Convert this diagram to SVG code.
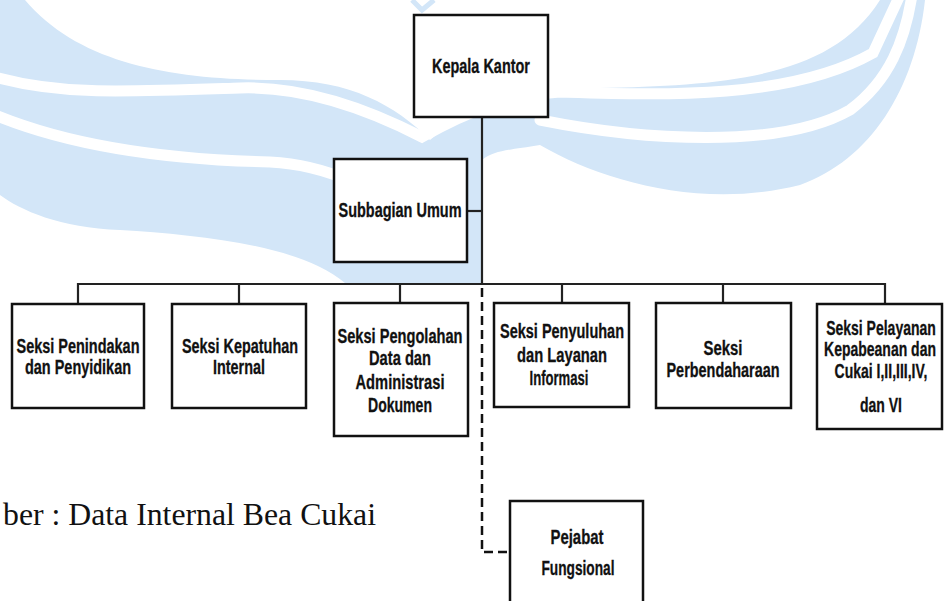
<svg xmlns="http://www.w3.org/2000/svg" width="944" height="601" viewBox="0 0 944 601">
<style>
.wm{fill:#d3e6f8;stroke:none}
.ws{fill:none;stroke:#ffffff;stroke-width:11;stroke-linecap:round}
.box{fill:#ffffff;stroke:#111111;stroke-width:2.5}
.t{font-family:"Liberation Sans",Arial,sans-serif;font-weight:bold;font-size:20px;fill:#111111;stroke:#111111;stroke-width:0.3}
.line{fill:none;stroke:#222222;stroke-width:2.2}
.dash{fill:none;stroke:#111111;stroke-width:2.5;stroke-dasharray:9 5}
.cap{font-family:"Liberation Serif","Times New Roman",serif;font-size:32px;fill:#111111}
</style>
<rect width="944" height="601" fill="#ffffff"/>
<g id="watermark">
<path class="wm" d="M0,0 L25,0 C80,65 175,80 280,80 C350,80 395,105 430,140 C470,105 520,90 600,88 C720,85 830,80 880,0 L925,0 C915,90 870,160 800,185 C700,210 600,180 540,145 C510,150 495,150 482,160 L482,283 L345,283 C300,245 200,235 120,230 C60,228 20,210 0,195 Z"/>
<path class="ws" d="M-5,77 C60,95 120,92 240,88 C300,86 360,105 422,137 C470,110 510,95 560,92 C660,95 790,100 873,53 L900,-5"/>
<path class="ws" d="M-5,115 C80,150 180,160 270,162 C330,165 380,190 425,230"/>
<path class="ws" d="M540,120 C640,140 780,150 850,110 C890,80 905,40 912,-5"/>
<path fill="none" stroke="#d3e6f8" stroke-width="5" d="M412,0 L422,10 L434,0"/>
</g>
<g id="connectors">
<line class="line" x1="482" y1="117" x2="482" y2="284" stroke-width="3"/>
<line class="line" x1="467" y1="211" x2="482" y2="211"/>
<polyline class="line" points="78,304 78,284 885,284 885,304"/>
<line class="line" x1="239" y1="284" x2="239" y2="304"/>
<line class="line" x1="400" y1="284" x2="400" y2="303"/>
<line class="line" x1="562" y1="284" x2="562" y2="303"/>
<line class="line" x1="723" y1="284" x2="723" y2="303"/>
<polyline class="dash" points="482,288 482,552 510,552"/>
</g>
<g id="kepala-kantor">
<rect class="box" x="414" y="15" width="134" height="102"/>
<text class="t" x="481" y="73" text-anchor="middle" textLength="98" lengthAdjust="spacingAndGlyphs">Kepala Kantor</text>
</g>
<g id="subbagian-umum">
<rect class="box" x="334" y="159" width="133" height="103"/>
<text class="t" x="400" y="217" text-anchor="middle" textLength="123" lengthAdjust="spacingAndGlyphs">Subbagian Umum</text>
</g>
<g id="seksi-penindakan">
<rect class="box" x="12" y="304" width="132" height="104"/>
<text class="t" x="78" y="353" text-anchor="middle" textLength="123" lengthAdjust="spacingAndGlyphs">Seksi Penindakan</text>
<text class="t" x="78" y="374" text-anchor="middle" textLength="106" lengthAdjust="spacingAndGlyphs">dan Penyidikan</text>
</g>
<g id="seksi-kepatuhan">
<rect class="box" x="172" y="304" width="134" height="104"/>
<text class="t" x="240" y="353" text-anchor="middle" textLength="116" lengthAdjust="spacingAndGlyphs">Seksi Kepatuhan</text>
<text class="t" x="239" y="374" text-anchor="middle" textLength="52" lengthAdjust="spacingAndGlyphs">Internal</text>
</g>
<g id="seksi-pengolahan">
<rect class="box" x="334" y="303" width="134" height="133"/>
<text class="t" x="400" y="343" text-anchor="middle" textLength="125" lengthAdjust="spacingAndGlyphs">Seksi Pengolahan</text>
<text class="t" x="400" y="365" text-anchor="middle" textLength="62" lengthAdjust="spacingAndGlyphs">Data dan</text>
<text class="t" x="400" y="389" text-anchor="middle" textLength="89" lengthAdjust="spacingAndGlyphs">Administrasi</text>
<text class="t" x="400" y="412" text-anchor="middle" textLength="64" lengthAdjust="spacingAndGlyphs">Dokumen</text>
</g>
<g id="seksi-penyuluhan">
<rect class="box" x="494" y="303" width="135" height="104"/>
<text class="t" x="562" y="338" text-anchor="middle" textLength="124" lengthAdjust="spacingAndGlyphs">Seksi Penyuluhan</text>
<text class="t" x="562" y="362" text-anchor="middle" textLength="90" lengthAdjust="spacingAndGlyphs">dan Layanan</text>
<text class="t" x="559" y="385" text-anchor="middle" textLength="59" lengthAdjust="spacingAndGlyphs">Informasi</text>
</g>
<g id="seksi-perbendaharaan">
<rect class="box" x="656" y="303" width="135" height="105"/>
<text class="t" x="723" y="355" text-anchor="middle" textLength="39" lengthAdjust="spacingAndGlyphs">Seksi</text>
<text class="t" x="723" y="377" text-anchor="middle" textLength="113" lengthAdjust="spacingAndGlyphs">Perbendaharaan</text>
</g>
<g id="seksi-pelayanan">
<rect class="box" x="817" y="304" width="125" height="125"/>
<text class="t" transform="translate(881,335) scale(0.7,1)" x="0" y="0" text-anchor="middle">Seksi Pelayanan</text>
<text class="t" transform="translate(880,356) scale(0.7,1)" x="0" y="0" text-anchor="middle">Kepabeanan dan</text>
<text class="t" transform="translate(881,378) scale(0.7,1)" x="0" y="0" text-anchor="middle">Cukai I,II,III,IV,</text>
<text class="t" transform="translate(881,412) scale(0.7,1)" x="0" y="0" text-anchor="middle">dan VI</text>
</g>
<g id="pejabat-fungsional">
<rect class="box" x="510" y="501" width="133" height="110"/>
<text class="t" x="577" y="544" text-anchor="middle" textLength="53" lengthAdjust="spacingAndGlyphs">Pejabat</text>
<text class="t" x="578" y="575" text-anchor="middle" textLength="73" lengthAdjust="spacingAndGlyphs">Fungsional</text>
</g>
<text class="cap" x="3" y="525" textLength="373" lengthAdjust="spacingAndGlyphs">ber : Data Internal Bea Cukai</text>
</svg>
